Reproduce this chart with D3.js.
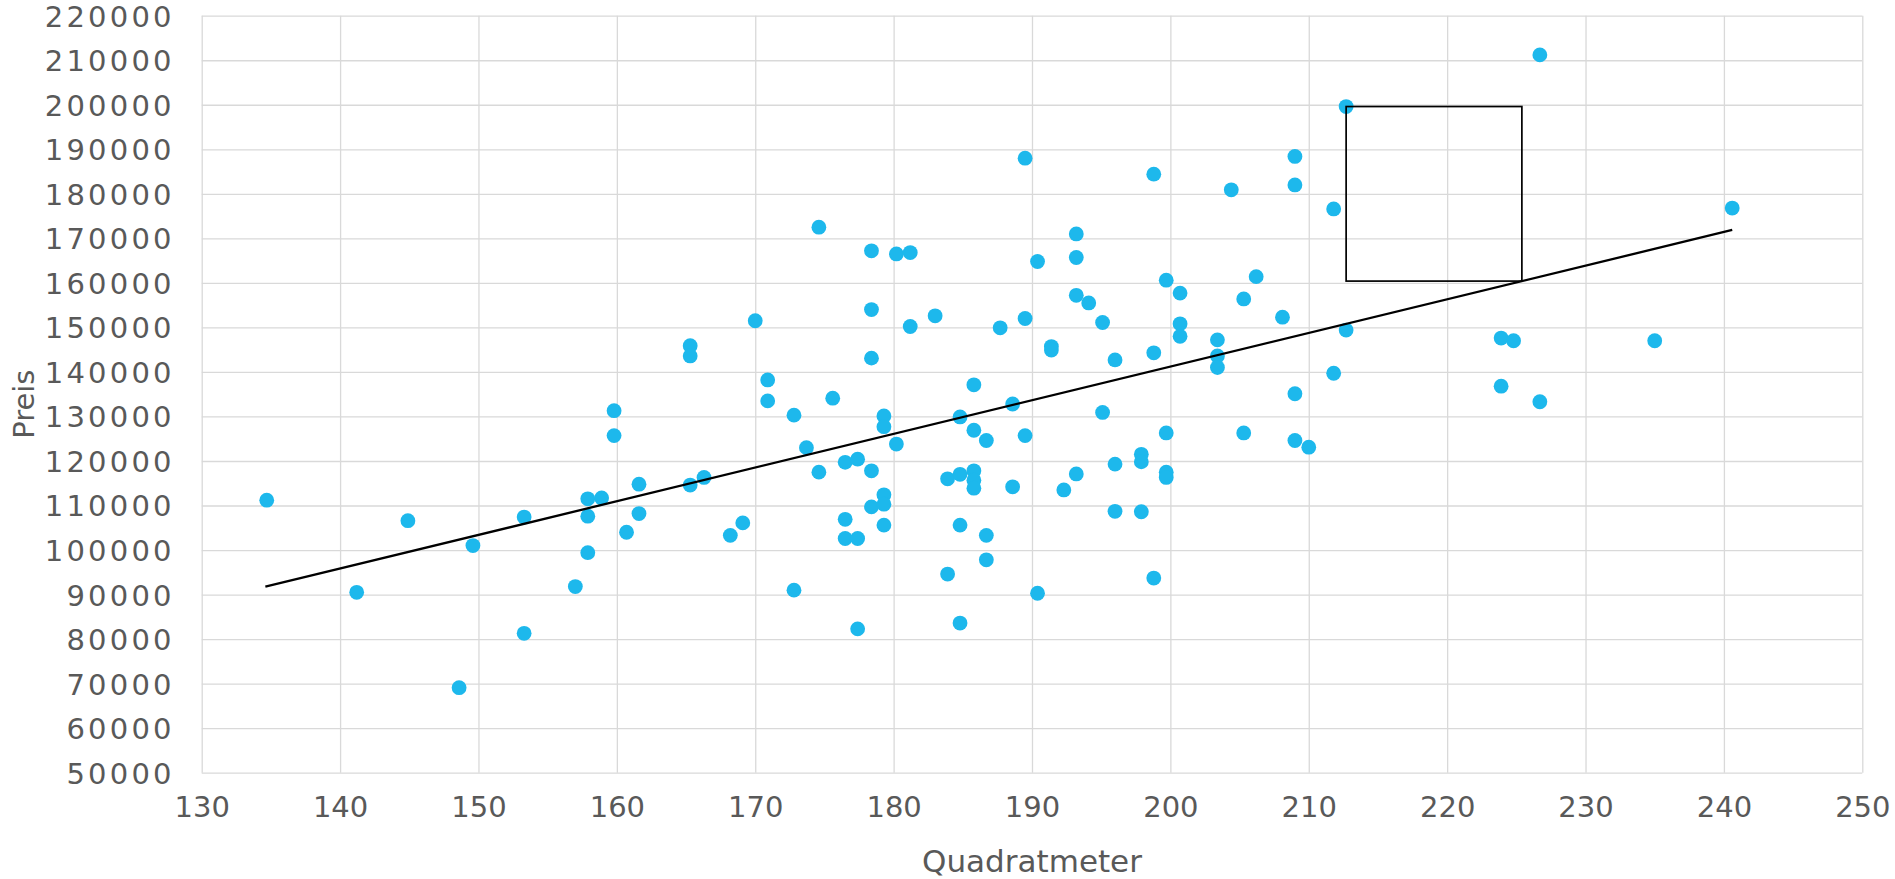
<!DOCTYPE html>
<html>
<head>
<meta charset="utf-8">
<script src="https://cdn.jsdelivr.net/npm/d3@7"></script>
<style>
  html, body { margin: 0; padding: 0; background: #ffffff; }
  svg { display: block; }
  .tick text { font-family: "DejaVu Sans", sans-serif; fill: #595959; }
  .axis-title { font-family: "DejaVu Sans", sans-serif; fill: #595959; }
</style>
</head>
<body>
<svg id="chart" width="1895" height="879"></svg>
<script>
// Wohnfläche (m²) und Preis der einzelnen Objekte
const areaSqm = [
  134.7, 141.2, 144.9, 149.6, 148.6, 153.3, 153.3, 157.9, 158.9, 157.9,
  157.9, 157.0, 159.8, 159.8, 161.6, 161.6, 160.7, 165.3, 165.3, 165.3,
  166.3, 168.2, 169.1, 170.0, 170.9, 170.9, 172.8, 173.7, 172.8, 174.6,
  174.6, 175.6, 176.5, 177.4, 176.5, 176.5, 177.4, 177.4, 178.4, 178.4,
  178.4, 178.4, 178.4, 179.3, 179.3, 179.3, 179.3, 179.3, 180.2, 180.2,
  181.2, 181.2, 183.0, 183.9, 183.9, 184.8, 184.8, 184.8, 184.8, 185.8,
  185.8, 185.8, 185.8, 185.8, 186.7, 186.7, 186.7, 187.7, 188.6, 188.6,
  189.5, 189.5, 189.5, 190.4, 190.4, 191.4, 191.4, 192.3, 193.2, 193.2,
  193.2, 193.2, 194.1, 195.1, 195.1, 196.0, 196.0, 196.0, 197.9, 197.9,
  197.9, 198.8, 198.8, 198.8, 199.7, 199.7, 199.7, 199.7, 200.7, 200.7,
  200.7, 203.4, 203.4, 203.4, 204.4, 205.3, 205.3, 206.2, 208.1, 209.0,
  209.0, 209.0, 209.0, 210.0, 211.8, 211.8, 212.7, 212.7, 223.9, 224.8,
  223.9, 226.7, 226.7, 235.0, 240.6
];
const price = [
  111200,  90500, 106600, 101000,  69100, 107400,  81300, 111500, 111700, 107600,
   99400,  91800, 131300, 125700, 114800, 108200, 104000, 145900, 143600, 114600,
  116300, 103300, 106100, 151500, 138200, 133500, 130300, 123000,  91000, 172500,
  117500, 134100, 119700, 120400, 106900, 102600, 102600,  82300, 167200, 154000,
  143100, 117800, 109700, 130100, 127700, 112400, 110300, 105600, 166500, 123800,
  166800, 150200, 152600, 116000,  94600, 129900, 117000, 105600,  83600, 137100,
  126900, 117800, 115700, 113900, 124600, 103300,  97800, 149900, 132800, 114200,
  188000, 152000, 125700, 164800,  90300, 145700, 144900, 113500, 171000, 165700,
  157200, 117100, 155500, 151100, 130900, 142700, 119300, 108700, 121500, 119800,
  108600, 184400, 144300,  93700, 160600, 126300, 117500, 116300, 157700, 150800,
  148000, 147200, 143600, 141000, 180900, 156400, 126300, 161400, 152300, 188400,
  182000, 135100, 124600, 123100, 176600, 139700, 199600, 149400, 147600, 147000,
  136800, 133300, 211200, 147000, 176800
];

// Lineare Trendlinie (Anfangs- und Endpunkt)
const trendArea  = [134.6, 240.6];
const trendPrice = [91770, 171880];

// Rechteck zwischen Messpunkt und Trendlinie
const boxArea  = [212.7, 225.4];
const boxPrice = [199600, 160400];

// Achsenbeschriftungen
const xTicks = d3.range(130, 251, 10);
const yTicks = d3.range(50000, 220001, 10000);
const xTitle = "Quadratmeter";
const yTitle = "Preis";

const margin = { top: 15.7, right: 32.7, bottom: 106.3, left: 201.7 };
const W = 1895, H = 879;
const innerW = W - margin.left - margin.right;
const innerH = H - margin.top - margin.bottom;

const svg = d3.select("#chart");
const g = svg.append("g").attr("transform", `translate(${margin.left},${margin.top})`);

const x = d3.scaleLinear().domain([130, 250]).range([0, innerW]);
const y = d3.scaleLinear().domain([50000, 220000]).range([innerH, 0]);

const gridColor = "#d9d9d9";

// Horizontale Gitterlinien + Y-Beschriftung
const yAxis = g.append("g")
  .call(d3.axisLeft(y).tickValues(yTicks).tickSize(-innerW).tickPadding(27).tickFormat(d3.format("d")));
yAxis.select(".domain").remove();
yAxis.selectAll(".tick line").attr("stroke", gridColor).attr("stroke-width", 1.3);
yAxis.selectAll(".tick text").attr("font-size", 29).attr("dy", "0.36em").attr("letter-spacing", 3.2);

// Vertikale Gitterlinien + X-Beschriftung
const xAxis = g.append("g")
  .attr("transform", `translate(0,${innerH})`)
  .call(d3.axisBottom(x).tickValues(xTicks).tickSize(-innerH).tickPadding(30).tickFormat(d3.format("d")));
xAxis.select(".domain").remove();
xAxis.selectAll(".tick line").attr("stroke", gridColor).attr("stroke-width", 1.3);
xAxis.selectAll(".tick text").attr("font-size", 29).attr("dy", "0.5em");

// Achsentitel
svg.append("text")
  .attr("class", "axis-title")
  .attr("x", margin.left + innerW / 2)
  .attr("y", 872)
  .attr("text-anchor", "middle")
  .attr("font-size", 31)
  .text(xTitle);

svg.append("text")
  .attr("class", "axis-title")
  .attr("transform", `translate(34,${margin.top + innerH / 2 + 10}) rotate(-90)`)
  .attr("text-anchor", "middle")
  .attr("font-size", 29)
  .text(yTitle);

// Datenpunkte
const points = areaSqm.map((a, i) => ({ a, p: price[i] }));
g.append("g")
  .selectAll("circle")
  .data(points)
  .join("circle")
  .attr("cx", d => x(d.a))
  .attr("cy", d => y(d.p))
  .attr("r", 7.4)
  .attr("fill", "#1db8ec");

// Trendlinie
const trend = trendArea.map((a, i) => [a, trendPrice[i]]);
g.append("path")
  .datum(trend)
  .attr("fill", "none")
  .attr("stroke", "#000")
  .attr("stroke-width", 2.3)
  .attr("d", d3.line().x(d => x(d[0])).y(d => y(d[1])));

// Rechteck
g.append("rect")
  .attr("x", x(boxArea[0]))
  .attr("y", y(boxPrice[0]))
  .attr("width", x(boxArea[1]) - x(boxArea[0]))
  .attr("height", y(boxPrice[1]) - y(boxPrice[0]))
  .attr("fill", "none")
  .attr("stroke", "#000")
  .attr("stroke-width", 1.7);
</script>
</body>
</html>
